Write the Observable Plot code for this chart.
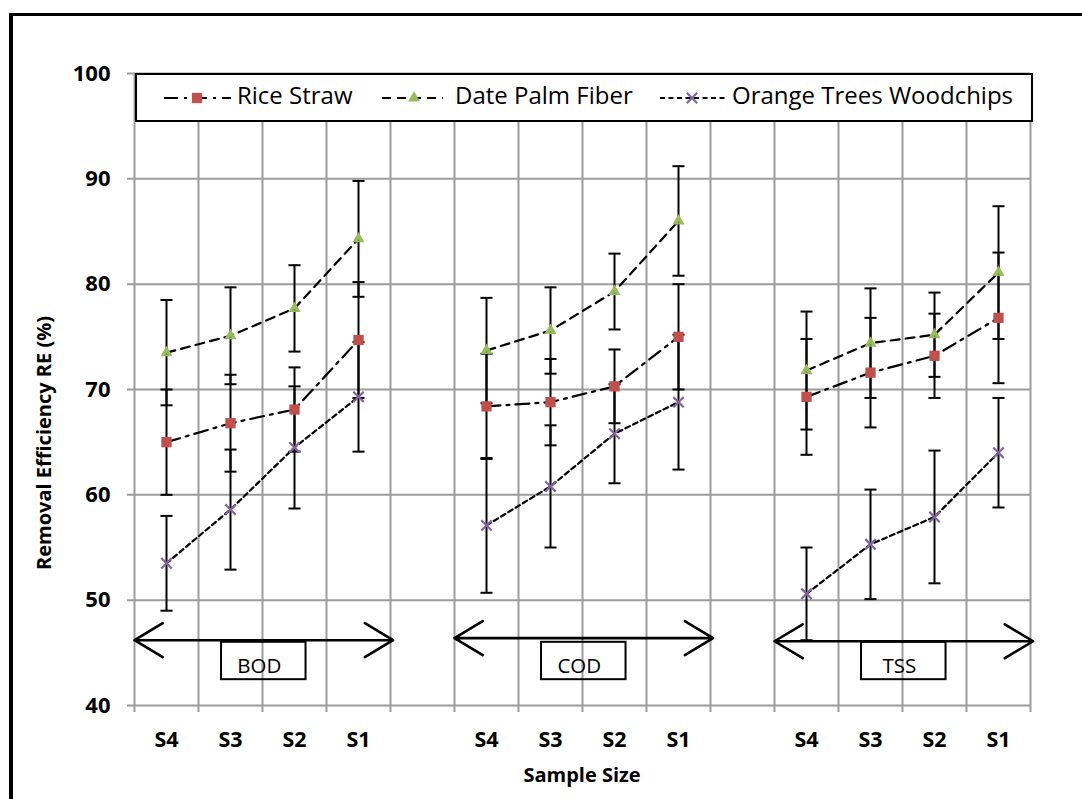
<!DOCTYPE html>
<html><head><meta charset="utf-8">
<script src="https://cdn.jsdelivr.net/npm/d3@7"></script>
<script src="https://cdn.jsdelivr.net/npm/@observablehq/plot@0.6"></script>
<style>
html,body{margin:0;padding:0;background:#fff;overflow:hidden;}
#wrap{position:relative;width:1082px;height:799px;}
#frame{position:absolute;left:9px;top:13px;width:1200px;height:900px;border-left:4px solid #000;border-top:3px solid #000;}
#wrap svg.plot{position:absolute;left:0;top:0;}
#legend{position:absolute;left:135px;top:73px;}
</style></head>
<body><div id="wrap"><div id="frame"></div></div>
<script>
// ---- data ----
const categories = ["S4", "S3", "S2", "S1"];
const groups = ["BOD", "COD", "TSS"];
const seriesNames = ["Rice Straw", "Date Palm Fiber", "Orange Trees Woodchips"];
const riceStraw    = [65.0, 66.8, 68.1, 74.7,  68.4, 68.8, 70.3, 75.0,  69.3, 71.6, 73.2, 76.8];
const riceStrawErr = [5.0, 4.6, 4.0, 5.5,      5.0, 4.1, 3.5, 5.0,      5.5, 5.2, 4.0, 6.2];
const datePalm     = [73.5, 75.1, 77.7, 84.3,  73.7, 75.6, 79.3, 86.0,  71.8, 74.4, 75.2, 81.1];
const datePalmErr  = [5.0, 4.6, 4.1, 5.5,      5.0, 4.1, 3.6, 5.2,      5.6, 5.2, 4.0, 6.3];
const orange       = [53.5, 58.6, 64.5, 69.3,  57.1, 60.8, 65.8, 68.8,  50.6, 55.3, 57.9, 64.0];
const orangeErr    = [4.5, 5.7, 5.8, 5.2,      6.4, 5.8, 4.7, 6.4,      4.4, 5.2, 6.3, 5.2];
const yTicks = [40, 50, 60, 70, 80, 90, 100];
const arrowLevel = [46.2, 46.4, 46.1];   // group-arrow annotations (y value)

// ---- build table ----
const slotsPerGroup = 5; // 4 categories + 1 gap
const nSlots = groups.length * slotsPerGroup - 1;
const values = [riceStraw, datePalm, orange];
const errors = [riceStrawErr, datePalmErr, orangeErr];
const rows = [];
seriesNames.forEach((s, si) => {
  groups.forEach((g, gi) => {
    categories.forEach((c, ci) => {
      const i = gi * 4 + ci;
      rows.push({series: s, group: g, cat: c, x: gi * slotsPerGroup + ci + 0.5,
                 v: values[si][i], lo: values[si][i] - errors[si][i], hi: values[si][i] + errors[si][i]});
    });
  });
});
const tickPos = [], tickLab = new Map();
groups.forEach((g, gi) => categories.forEach((c, ci) => {
  const p = gi * slotsPerGroup + ci + 0.5; tickPos.push(p); tickLab.set(p, c);
}));
const arrows = [];
groups.forEach((g, gi) => {
  const a = gi * slotsPerGroup, b = a + 4, m = a + 2;
  arrows.push({x1: m, x2: a, y: arrowLevel[gi]}, {x1: m, x2: b + 0.04, y: arrowLevel[gi]});
});
const boxes = groups.map((g, gi) => ({label: g, cx: gi * slotsPerGroup + 2}));

const styles = {
  "Rice Straw": {dash: "14,6,3,6", symbol: "square", r: 5.8, fill: "#C0504D", stroke: "none"},
  "Date Palm Fiber": {dash: "9,6", symbol: "triangle", r: 4.5, fill: "#9BBB59", stroke: "none"},
  "Orange Trees Woodchips": {dash: "5,3.5", symbol: "times", r: 4.8, fill: "none", stroke: "#8064A2"}
};
const capSymbol = {draw(ctx, size) { const r = Math.sqrt(size) / 2; ctx.moveTo(-r, 0); ctx.lineTo(r, 0); }};
const grid = "#9c9c9c";

const marks = [
  Plot.ruleY(yTicks, {stroke: grid, strokeWidth: 2, insetLeft: -7}),
  Plot.ruleX(d3.range(nSlots + 1), {stroke: grid, strokeWidth: 2, insetBottom: -7}),
  Plot.axisY({ticks: yTicks, tickSize: 0, tickPadding: 24, fontSize: 22, fontWeight: "bold", label: null}),
  Plot.axisX({ticks: tickPos, tickFormat: d => tickLab.get(d), tickSize: 0, tickPadding: 26, fontSize: 21.5, fontWeight: "bold", label: null}),
  Plot.rect(boxes, {x1: d => d.cx - 0.64, x2: d => d.cx + 0.68, y1: 46.0, y2: 42.45, fill: "none", stroke: "black", strokeWidth: 2}),
  Plot.text(boxes, {x: d => d.cx - 0.05, y: 43.75, text: "label", fontSize: 20.5, fill: "black"})
];
seriesNames.forEach(s => {
  const st = styles[s];
  marks.push(Plot.line(rows.filter(d => d.series === s), {x: "x", y: "v", z: "group", stroke: "black", strokeWidth: 2.2, strokeDasharray: st.dash}));
});
marks.push(
  Plot.ruleX(rows, {x: "x", y1: "lo", y2: "hi", stroke: "black", strokeWidth: 2}),
  Plot.dot(rows, {x: "x", y: "lo", symbol: capSymbol, r: 6.8, stroke: "black", strokeWidth: 2, fill: "none"}),
  Plot.dot(rows, {x: "x", y: "hi", symbol: capSymbol, r: 6.8, stroke: "black", strokeWidth: 2, fill: "none"})
);
seriesNames.forEach(s => {
  const st = styles[s];
  const data = rows.filter(d => d.series === s);
  marks.push(Plot.dot(data, {x: "x", y: "v", symbol: st.symbol, r: st.r, fill: st.fill, stroke: st.stroke, strokeWidth: 2.2}));
  if (st.symbol === "triangle") marks.push(Plot.dot(data, {x: "x", y: "v", r: 0.9, fill: "#4F81BD", dy: 1.5}));
});
marks.push(Plot.arrow(arrows, {x1: "x1", x2: "x2", y1: "y", y2: "y", stroke: "black", strokeWidth: 2.6, headLength: 19, headAngle: 62}));

const chart = Plot.plot({
  width: 1082, height: 799,
  marginLeft: 134, marginRight: 52, marginTop: 73, marginBottom: 94,
  x: {type: "linear", domain: [0, nSlots]},
  y: {domain: [40, 100]},
  style: {fontFamily: "'Open Sans', sans-serif", background: "transparent", color: "black", overflow: "visible"},
  marks
});
chart.classList.add("plot");
document.getElementById("wrap").appendChild(chart);

// axis titles
const svg = d3.select(chart);
svg.append("text").attr("transform", "translate(46,443) rotate(-90)").attr("text-anchor", "middle")
  .attr("dominant-baseline", "middle").attr("font-size", 20).attr("font-weight", "bold").attr("fill", "black")
  .text("Removal Efficiency RE (%)");
svg.append("text").attr("x", 582).attr("y", 777).attr("text-anchor", "middle").attr("dominant-baseline", "middle")
  .attr("font-size", 20).attr("font-weight", "bold").attr("fill", "black").text("Sample Size");

// legend
const lg = d3.select("#wrap").append("svg").attr("id", "legend").attr("width", 898).attr("height", 49)
  .style("font-family", "'Open Sans', sans-serif");
lg.append("rect").attr("x", 1).attr("y", 1).attr("width", 896).attr("height", 47).attr("fill", "white").attr("stroke", "black").attr("stroke-width", 2);
const legendLayout = [{x0: 29, x1: 96, m: 62, t: 102}, {x0: 247, x1: 308, m: 279, t: 320}, {x0: 525, x1: 593, m: 557, t: 597}];
seriesNames.forEach((s, i) => {
  const st = styles[s], L = legendLayout[i], cy = 25;
  lg.append("line").attr("x1", L.x0).attr("x2", L.x1).attr("y1", cy).attr("y2", cy).attr("stroke", "black").attr("stroke-width", 2.2).attr("stroke-dasharray", st.dash);
  const type = {square: d3.symbolSquare, triangle: d3.symbolTriangle, times: d3.symbolTimes}[st.symbol];
  lg.append("path").attr("d", d3.symbol(type, Math.PI * st.r * st.r)()).attr("transform", `translate(${L.m},${cy})`)
    .attr("fill", st.fill).attr("stroke", st.stroke).attr("stroke-width", 2.2);
  lg.append("text").attr("x", L.t).attr("y", cy).attr("dominant-baseline", "middle").attr("font-size", 24).attr("fill", "black").text(s);
});
</script>
</body></html>
